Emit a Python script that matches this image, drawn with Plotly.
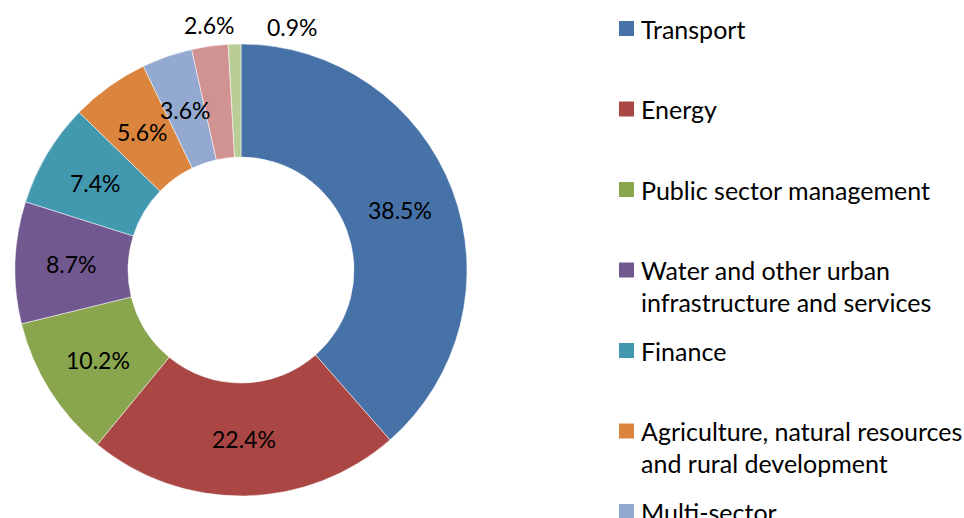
import math
import plotly.graph_objects as go

W, H = 964, 518

sectors = ["Transport", "Energy", "Public sector management",
           "Water and other urban infrastructure and services", "Finance",
           "Agriculture, natural resources and rural development", "Multi-sector",
           "Education", "Industry and trade"]
legend_lines = [["Transport"], ["Energy"], ["Public sector management"],
                ["Water and other urban", "infrastructure and services"], ["Finance"],
                ["Agriculture, natural resources", "and rural development"], ["Multi-sector"],
                ["Education"], ["Industry and trade"]]
shares = [38.5, 22.4, 10.2, 8.7, 7.4, 5.6, 3.6, 2.6, 0.9]
colors = ["#4672A8", "#AA4744", "#89A54E", "#71588F", "#4198AF",
          "#DB843D", "#93A9CF", "#D19392", "#B9CD96"]
# the two smallest slices carry their labels above the ring
outside_label_xy = [None] * 7 + [(209, 25), (292, 27)]

FONT = "Lato"

# pie geometry in pixels
CX, CY, R, HOLE = 241, 270, 226, 0.5

def px(x):
    return x / W

def py(y):
    return 1 - y / H

fig = go.Figure(go.Pie(
    labels=sectors, values=shares, sort=False, direction="clockwise", rotation=0,
    hole=HOLE, marker=dict(colors=colors, line=dict(color="rgba(255,255,255,0.5)", width=1)),
    textinfo="none",
    domain=dict(x=[px(CX - R), px(CX + R)], y=[py(CY + R), py(CY - R)]),
    showlegend=False,
))

shapes, annotations = [], []
# data labels: centred in the ring at each slice's mid-angle
total = sum(shares)
cum = 0.0
r_mid = R * (1 + HOLE) / 2
for v, oxy in zip(shares, outside_label_xy):
    ang = (cum + v / 2) / total * 2 * math.pi
    cum += v
    if oxy is None:
        x, y = CX + r_mid * math.sin(ang), CY - r_mid * math.cos(ang)
    else:
        x, y = oxy
    annotations.append(dict(xref="paper", yref="paper", x=px(x), y=py(y),
                            xanchor="center", yanchor="middle", text=f"{v:.1f}%",
                            showarrow=False, font=dict(family=FONT, size=23, color="black")))

slot0, slot_gap, line_gap = 28.5, 80.5, 32
for i, (lines, col) in enumerate(zip(legend_lines, colors)):
    yc = slot0 + i * slot_gap
    shapes.append(dict(type="rect", xref="paper", yref="paper",
                       x0=px(619), x1=px(634), y0=py(yc - 7.5), y1=py(yc + 7.5),
                       fillcolor=col, line=dict(width=0)))
    for j, ln in enumerate(lines):
        annotations.append(dict(xref="paper", yref="paper", x=px(639), y=py(yc + j * line_gap),
                                xanchor="left", yanchor="middle", text=ln, showarrow=False,
                                font=dict(family=FONT, size=25, color="black")))

fig.update_layout(width=W, height=H, margin=dict(l=0, r=0, t=0, b=0),
                  paper_bgcolor="white", plot_bgcolor="white",
                  shapes=shapes, annotations=annotations)
fig.write_html("out.html", config={"displayModeBar": False},
               post_script="document.body.style.margin='0';")
